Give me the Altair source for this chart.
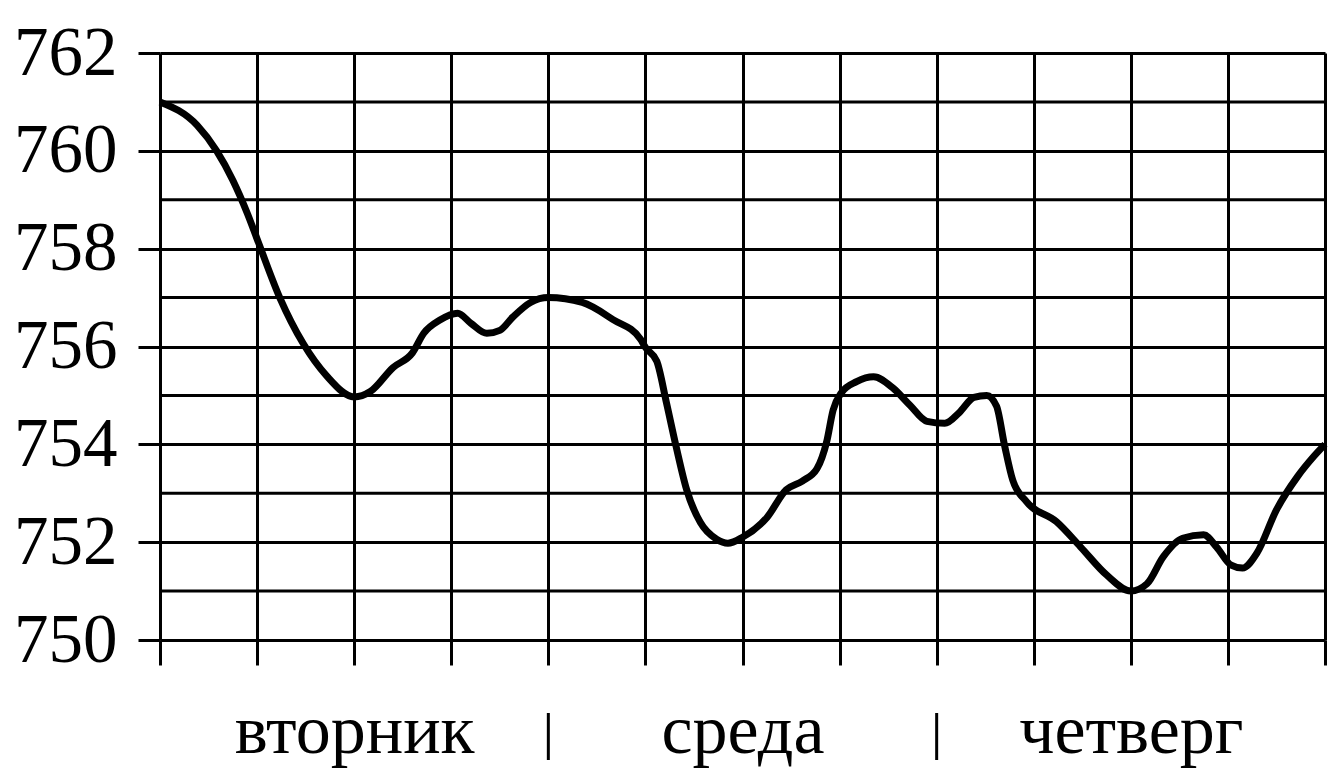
import altair as alt
import pandas as pd

# Time in hours from the start of Tuesday, pressure in mm Hg
hours = [0, 2.3, 3.5, 4.5, 5.4, 6, 7.4, 8.85, 10.3, 12, 13, 14.4, 15.6, 16.3, 17.3,
         18.4, 19.2, 20.2, 21, 21.8, 22.9, 24, 26.1, 28, 29.7, 30, 30.7, 31.3, 31.9,
         32.55, 33.4, 34.4, 35.1, 36, 37.5, 38.7, 39.7, 40.6, 41.2, 41.6, 42.1, 43.05,
         44.1, 45.3, 46.35, 47.4, 48.5, 49.4, 50.3, 51.1, 51.7, 52.2, 52.7, 53.55,
         55.4, 56.9, 58.5, 60, 61, 62, 63.2, 64.5, 65.3, 66.2, 66.9, 67.8, 69, 70.3,
         71.3, 72]
pressure = [761, 760.52, 760.0, 759.4, 758.72, 758.2, 757.0, 756.06, 755.4, 754.97,
            755.08, 755.57, 755.87, 756.27, 756.54, 756.68, 756.48, 756.27, 756.33,
            756.6, 756.9, 757.0, 756.9, 756.55, 756.15, 755.98, 755.7, 754.85, 753.95,
            753.07, 752.4, 752.06, 751.98, 752.1, 752.5, 753.07, 753.25, 753.5, 754.05,
            754.7, 755.05, 755.28, 755.38, 755.15, 754.8, 754.47, 754.43, 754.65,
            754.96, 755.0, 754.78, 753.97, 753.27, 752.83, 752.42, 751.9, 751.33,
            751.0, 751.15, 751.7, 752.08, 752.15, 751.9, 751.53, 751.47, 751.78,
            752.66, 753.34, 753.75, 754.0]

day_names = ["вторник", "среда", "четверг"]
day_centers = [12, 36, 60]
day_separators = [24, 48]
x_grid = list(range(0, 73, 6))
y_labeled = list(range(750, 763, 2))
y_minor = list(range(751, 762, 2))

W, H = 1165, 587
FONT = "Liberation Serif"

df = pd.DataFrame({"h": hours, "p": pressure})
minor_df = pd.DataFrame({"p": y_minor, "h0": [0] * len(y_minor), "h1": [72] * len(y_minor)})
sep_df = pd.DataFrame({"h": day_separators})

label_map = "{" + ",".join(f"'{c}':'{n}'" for c, n in zip(day_centers, day_names)) + "}"

xscale = alt.Scale(domain=[0, 72], nice=False, zero=False)
yscale = alt.Scale(domain=[750, 762], nice=False, zero=False)

x_axis = alt.Axis(values=x_grid, grid=True, gridColor="black", gridWidth=3, gridOpacity=1,
                  ticks=True, tickSize=25, tickWidth=3, tickColor="black", domain=False,
                  labelExpr=f"{label_map}[datum.value] || ''", labelFont=FONT,
                  labelFontSize=70, labelColor="black", labelBaseline="alphabetic",
                  labelPadding=87, labelAngle=0, title=None, labelOverlap=False,
                  labelLimit=0)
y_axis = alt.Axis(values=y_labeled, grid=True, gridColor="black", gridWidth=3, gridOpacity=1,
                  ticks=True, tickSize=22, tickWidth=3, tickColor="black", domain=False,
                  labelFont=FONT, labelFontSize=69, labelColor="black", labelPadding=21,
                  labelBaseline="middle", title=None, format="d", labelLimit=0)

minor = alt.Chart(minor_df).mark_rule(color="black", strokeWidth=3).encode(
    x=alt.X("h0:Q", scale=xscale, axis=x_axis),
    x2="h1:Q",
    y=alt.Y("p:Q", scale=yscale, axis=y_axis),
)

line = alt.Chart(df).mark_line(color="black", strokeWidth=7, interpolate="monotone").encode(
    x=alt.X("h:Q", scale=xscale),
    y=alt.Y("p:Q", scale=yscale),
)

seps = alt.Chart(sep_df).mark_rule(color="black", strokeWidth=3).encode(
    x=alt.X("h:Q", scale=xscale),
    y=alt.value(H + 73),
    y2=alt.value(H + 120),
)

chart = alt.layer(minor, line, seps).properties(
    width=W, height=H,
    autosize=alt.AutoSizeParams(type="none"),
    padding={"left": 152, "top": 45, "right": 5, "bottom": 130},
).configure_view(stroke=None).configure(background="white")

chart.save("out.html", embed_options={"renderer": "svg", "actions": False})
